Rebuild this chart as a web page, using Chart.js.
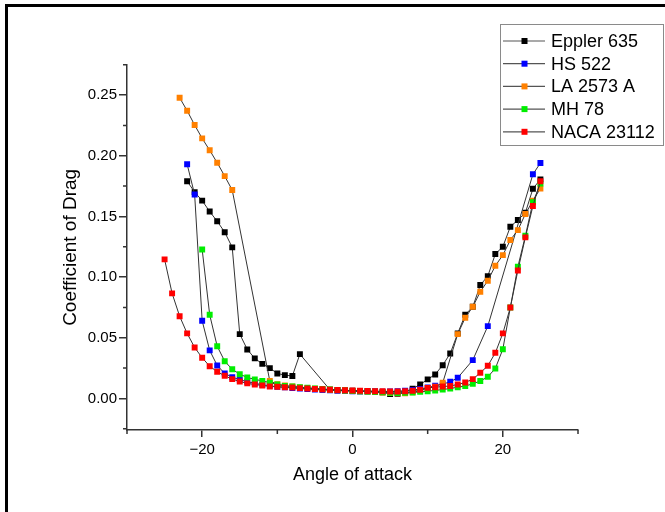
<!DOCTYPE html>
<html>
<head>
<meta charset="utf-8">
<script src="https://cdn.jsdelivr.net/npm/chart.js@4/dist/chart.umd.min.js"></script>
<style>
  html, body { margin: 0; padding: 0; background: #fff; }
  #wrap { position: relative; width: 665px; height: 512px; overflow: hidden; }
  #frame { position: absolute; left: 5px; top: 4px; width: 700px; height: 600px;
           border-left: 3px solid #000; border-top: 3px solid #000; pointer-events: none; }
  canvas { display: block; }
</style>
</head>
<body>
<div id="wrap">
  <canvas id="c" width="665" height="512"></canvas>
  <div id="frame"></div>
</div>
<script>
// ---- data (angle of attack in degrees, drag coefficient) ----
const angles = [-25,-24,-23,-22,-21,-20,-19,-18,-17,-16,-15,-14,-13,-12,-11,-10,-9,-8,-7,-6,-5,-4,-3,-2,-1,0,1,2,3,4,5,6,7,8,9,10,11,12,13,14,15,16,17,18,19,20,21,22,23,24,25];

const seriesNames = ["Eppler 635", "HS 522", "LA 2573 A", "MH 78", "NACA 23112"];
const seriesColors = ["#000000", "#0000ff", "#ff8000", "#00ee00", "#ff0000"];

const eppler635 = [null,null,null,0.179,0.170,0.163,0.154,0.146,0.137,0.1245,0.053,0.0404,0.033,0.0285,0.025,0.0206,0.0192,0.0185,0.0365,null,null,null,
  0.0072,0.0068,0.0066,0.0064,0.0062,0.006,0.0057,0.005,0.0037,0.0038,
  0.0055,0.008,0.0115,0.0157,0.0198,0.0274,0.037,0.0536,0.069,0.0755,
  0.0934,0.1008,0.119,0.125,0.1415,0.147,0.153,0.1728,0.1805];

const hs522 = [null,null,null,
  0.193,0.168,0.064,0.0396,0.0272,0.0206,0.0175,0.0155,0.0138,0.0125,
  0.0113,0.0104,0.0097,0.0091,0.0086,0.0081,0.0077,0.0073,0.007,0.0067,
  0.0064,0.0062,0.006,0.0058,0.0057,0.0056,0.0056,0.0057,0.0059,0.0063,
  0.0069,0.0078,0.009,0.0104,0.0118,0.0137,0.017,
  null,0.0316,null,0.0596,null,null,null,null,null,0.1847,0.194];

const la2573a = [null,null,
  0.2478,0.2371,0.2253,0.2143,0.2045,0.1942,0.1832,0.1717,
  null,null,null,null,
  0.0143,0.0118,0.0106,0.0098,0.0091,0.0085,0.008,0.0076,0.0072,0.0068,
  0.0065,0.0062,0.0059,0.0056,0.0053,0.0049,0.0045,0.0042,0.0043,0.005,
  0.0065,0.0085,0.0096,0.0129,
  null,
  0.053,0.0665,0.0755,0.0879,0.097,0.1093,0.1181,0.1305,0.1387,0.152,0.163,0.173];

const mh78 = [null,null,null,null,null,
  0.1228,0.069,0.043,0.0307,0.024,0.020,0.0173,0.0157,0.0145,0.013,
  0.0115,0.0103,0.0099,0.0093,0.0088,0.0083,0.0078,0.0074,0.007,0.0066,
  0.0062,0.0059,0.0056,0.0053,0.005,0.0047,0.0045,0.0046,0.0049,0.0054,
  0.006,0.0066,0.0073,0.0082,0.0093,0.0102,0.0121,0.0143,0.0178,0.0247,
  0.0406,0.075,0.1085,0.134,0.1616,0.177];

const naca23112 = [0.1146,0.0866,0.0678,0.0536,0.042,0.0335,0.0266,0.022,0.0187,0.0159,
  0.014,0.0124,0.0115,0.0107,0.0099,0.0096,0.0093,0.009,0.0085,0.0082,
  0.0078,0.0075,0.0072,0.0069,0.0067,0.0065,0.0063,0.0061,0.006,0.0059,
  0.0058,0.0058,0.006,0.0064,0.0072,0.0087,0.0093,0.0098,0.0103,0.0115,
  0.0132,0.0159,0.0211,0.0269,0.0376,0.0536,0.075,0.1055,0.1327,0.1585,0.179];

const seriesValues = [eppler635, hs522, la2573a, mh78, naca23112];

// ---- axis ticks ----
const xMajorTicks = [-20, 0, 20];
const xMinorTicks = [-30, -10, 10, 30];
const yMajorTicks = [0, 0.05, 0.10, 0.15, 0.20, 0.25];
const yMinorTicks = [-0.025, 0.025, 0.075, 0.125, 0.175, 0.225, 0.275];

const xTitle = "Angle of attack";
const yTitle = "Coefficient of Drag";

Chart.defaults.font.family = "'Liberation Sans', Arial, sans-serif";
Chart.defaults.color = "#000";

const datasets = seriesNames.map((name, i) => ({
  label: name,
  data: angles.map((a, k) => ({ x: a, y: seriesValues[i][k] })),
  borderColor: "#333",
  borderWidth: 1,
  pointStyle: "rect",
  pointRadius: 4.2,
  pointBackgroundColor: seriesColors[i],
  pointBorderColor: seriesColors[i],
  pointBorderWidth: 0,
  tension: 0,
  spanGaps: true,
  order: seriesNames.length - 1 - i
}));

const minorTicksPlugin = {
  id: "minorTicks",
  afterDraw(chart) {
    const ctx = chart.ctx;
    const xs = chart.scales.x, ys = chart.scales.y;
    ctx.save();
    ctx.strokeStyle = "#333";
    ctx.lineWidth = 1.5;
    ctx.beginPath();
    xMinorTicks.forEach(v => {
      const px = xs.getPixelForValue(v);
      ctx.moveTo(px, xs.top);
      ctx.lineTo(px, xs.top + 4);
    });
    yMinorTicks.forEach(v => {
      const py = ys.getPixelForValue(v);
      ctx.moveTo(ys.right - 4, py);
      ctx.lineTo(ys.right, py);
    });
    ctx.stroke();
    ctx.restore();
  }
};

const legendPlugin = {
  id: "boxLegend",
  afterDraw(chart) {
    const ctx = chart.ctx;
    ctx.save();
    ctx.fillStyle = "#fff";
    ctx.fillRect(501, 25, 163, 120);
    ctx.strokeStyle = "#8a8a8a";
    ctx.lineWidth = 1;
    ctx.strokeRect(500.5, 24.5, 163, 121);
    ctx.font = "18px 'Liberation Sans', Arial, sans-serif";
    ctx.textBaseline = "middle";
    ctx.textAlign = "left";
    seriesNames.forEach((name, i) => {
      const y = 41 + i * 22.7;
      ctx.strokeStyle = "#555";
      ctx.lineWidth = 1.2;
      ctx.beginPath();
      ctx.moveTo(503, y);
      ctx.lineTo(545, y);
      ctx.stroke();
      ctx.fillStyle = seriesColors[i];
      ctx.fillRect(521.5, y - 3, 6, 6);
      ctx.fillStyle = "#000";
      ctx.fillText(name, 551, y + 1);
    });
    ctx.restore();
  }
};

new Chart(document.getElementById("c"), {
  type: "line",
  data: { datasets },
  plugins: [minorTicksPlugin, legendPlugin],
  options: {
    responsive: false,
    animation: false,
    layout: { padding: { left: 0, top: 64.7, right: 87, bottom: 0 } },
    plugins: { legend: { display: false }, tooltip: { enabled: false } },
    scales: {
      x: {
        type: "linear",
        min: -30, max: 30,
        afterBuildTicks: s => { s.ticks = xMajorTicks.map(v => ({ value: v })); },
        afterFit: s => { s.height = 82; },
        border: { display: true, color: "#333", width: 1.5 },
        grid: { display: true, drawOnChartArea: false, drawTicks: true, tickLength: 7, color: "#333", lineWidth: 1.5 },
        ticks: {
          padding: 4,
          maxRotation: 0,
          autoSkip: false,
          font: { size: 15 },
          color: "#000",
          callback: v => (v < 0 ? "\u2212" + Math.abs(v) : String(v))
        },
        title: { display: true, text: xTitle, font: { size: 18 }, color: "#000", padding: { top: 0, bottom: 26 } }
      },
      y: {
        type: "linear",
        min: -0.026, max: 0.275,
        afterBuildTicks: s => { s.ticks = yMajorTicks.map(v => ({ value: v })); },
        afterFit: s => { s.width = 127; },
        border: { display: true, color: "#333", width: 1.5 },
        grid: { display: true, drawOnChartArea: false, drawTicks: true, tickLength: 8, color: "#333", lineWidth: 1.5 },
        ticks: {
          padding: 2,
          autoSkip: false,
          font: { size: 15 },
          color: "#000",
          callback: v => Number(v).toFixed(2)
        },
        title: { display: true, text: yTitle, font: { size: 19 }, color: "#000", padding: { top: 59, bottom: 0 } }
      }
    }
  }
});
</script>
</body>
</html>
